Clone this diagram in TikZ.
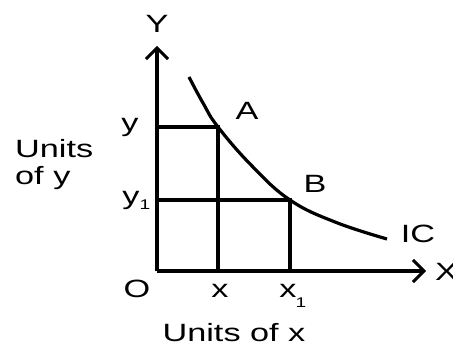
\documentclass[tikz,border=0pt]{standalone}
\usepackage{fontspec}
\setmainfont[FakeStretch=1.37]{Liberation Sans}
\usetikzlibrary{arrows.meta}
\begin{document}
\begin{tikzpicture}[x=1pt,y=-1pt,
  line/.style={line width=3.2pt},
  axis/.style={line width=3.2pt,-{Straight Barb[length=11pt,width=22pt,line width=3pt]}},
  lbl/.style={font=\fontsize{25}{28}\selectfont, inner sep=0pt, anchor=base},
  sub/.style={font=\fontsize{14}{16}\selectfont, inner sep=0pt, anchor=base}]
\useasboundingbox (0,0) rectangle (453,342);
\coordinate (O) at (157,271);
\coordinate (Ytop) at (157,46);
\coordinate (Xend) at (426,271);
\coordinate (A) at (218,127);
\coordinate (B) at (290,200);
\coordinate (ya) at (157,127);
\coordinate (yb) at (157,200);
\coordinate (xa) at (218,271);
\coordinate (xb) at (290,271);
\coordinate (Cs) at (189,77);
\coordinate (Ce) at (387,239);
\draw[axis] (O) -- (Ytop);
\draw[axis] (O) -- (Xend);
\draw[line] (ya) -- (A) -- (xa);
\draw[line] (yb) -- (B) -- (xb);
\draw[line] plot[smooth, tension=0.7] coordinates {(Cs) (203,103) (A) (252,166) (B) (335,222) (Ce)};
\node[lbl] (lY) at (157,33) {Y};
\node[lbl,anchor=base west] (lX) at (435,280) {X};
\node[lbl] (lA) at (247,120) {A};
\node[lbl] (lB) at (315,193) {B};
\node[lbl] (lIC) at (418,243) {IC};
\node[lbl] (lO) at (137,298) {O};
\node[lbl] (lx) at (220,298) {x};
\node[lbl] (lx1) at (288,298) {x};
\node[sub] (lx1s) at (301,307) {1};
\node[lbl] (ly) at (130,132) {y};
\node[lbl] (ly1) at (131,205) {y};
\node[sub] (ly1s) at (145,210) {1};
\node[lbl,anchor=base west] (lU1) at (15,158) {Units};
\node[lbl,anchor=base west] (lU2) at (15,185) {of y};
\node[lbl] (lUx) at (234,341) {Units of x};
\end{tikzpicture}
\end{document}
